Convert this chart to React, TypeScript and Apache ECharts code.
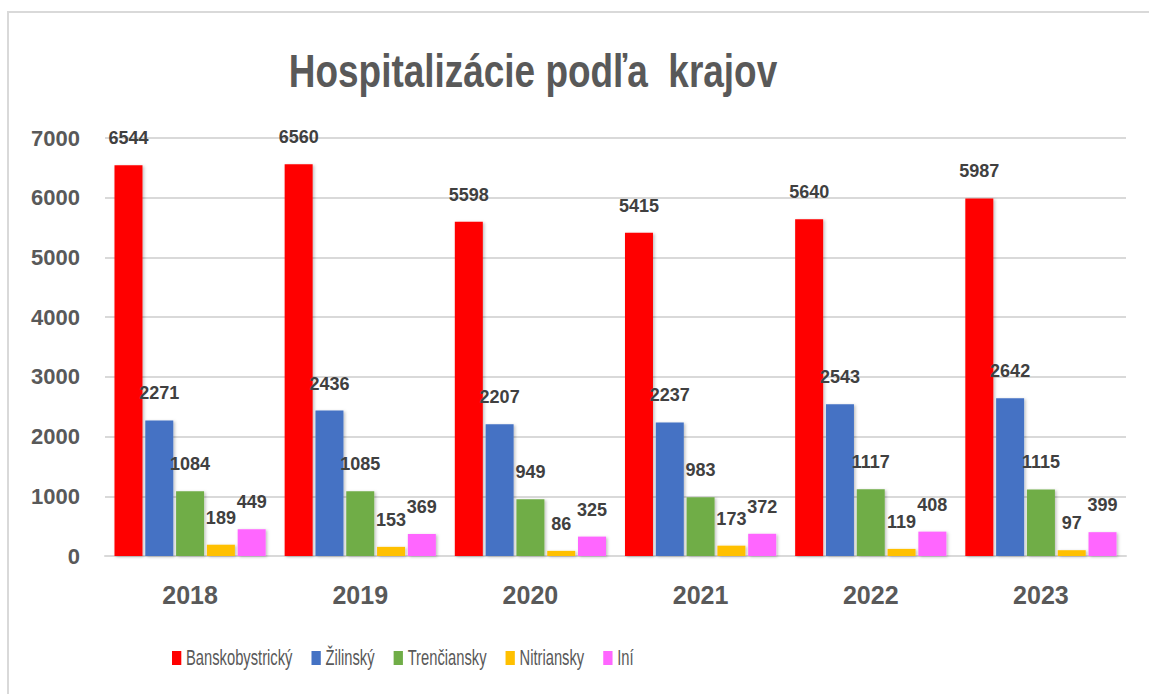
import React, { useEffect, useRef } from "react";
import * as echarts from "echarts";

const years = ["2018", "2019", "2020", "2021", "2022", "2023"];
const seriesNames = ["Banskobystrický", "Žilinský", "Trenčiansky", "Nitriansky", "Iní"];
const banskobystricky = [6544, 6560, 5598, 5415, 5640, 5987];
const zilinsky = [2271, 2436, 2207, 2237, 2543, 2642];
const trenciansky = [1084, 1085, 949, 983, 1117, 1115];
const nitriansky = [189, 153, 86, 173, 119, 97];
const ini = [449, 369, 325, 372, 408, 399];
const colors = ["#FF0000", "#4472C4", "#70AD47", "#FFC000", "#FF66FF"];
const titleText = "Hospitalizácie podľa  krajov";

const LEGEND_FONT = "22px 'Liberation Sans', sans-serif";
const LEGEND_SCALE = 0.67;

function measure(text: string, font: string): number {
  const c = document.createElement("canvas").getContext("2d");
  if (!c) return text.length * 10;
  c.font = font;
  return c.measureText(text).width;
}

function buildLegend() {
  const els: any[] = [];
  let x = 172;
  seriesNames.forEach((name, i) => {
    els.push({
      type: "rect",
      shape: { x, y: 651, width: 9.3, height: 14 },
      style: { fill: colors[i] },
    });
    const tx = x + 14;
    els.push({
      type: "text",
      x: tx,
      y: 657.5,
      scaleX: LEGEND_SCALE,
      style: {
        text: name,
        textAlign: "left",
        textVerticalAlign: "middle",
        fill: "#595959",
        font: LEGEND_FONT,
      },
    });
    x = tx + measure(name, LEGEND_FONT) * LEGEND_SCALE + 19;
  });
  return els;
}

export default function App() {
  const ref = useRef<HTMLDivElement>(null);
  useEffect(() => {
    if (!ref.current) return;
    const chart = echarts.init(ref.current, null, { renderer: "svg" });
    const allData = [banskobystricky, zilinsky, trenciansky, nitriansky, ini];
    const series = allData.map((d, i) => ({
      name: seriesNames[i],
      type: "bar",
      data: d,
      barWidth: 28,
      barGap: "10%",
      itemStyle: {
        color: colors[i],
        shadowColor: "rgba(0,0,0,0.25)",
        shadowBlur: 3,
        shadowOffsetX: 1.5,
        shadowOffsetY: 1,
      },
      label: {
        show: true,
        position: "top",
        distance: 18,
        color: "#404040",
        fontFamily: "'Liberation Sans', sans-serif",
        fontWeight: "bold",
        fontSize: 18,
        lineHeight: 18,
      },
    }));
    chart.setOption({
      animation: false,
      backgroundColor: "#ffffff",
      color: colors,
      graphic: [
        {
          type: "rect",
          z: -10,
          shape: { x: 8, y: 12, width: 1300, height: 900 },
          style: { fill: "none", stroke: "#d9d9d9", lineWidth: 2 },
        },
        {
          type: "text",
          x: 533,
          y: 71,
          scaleX: 0.786,
          style: {
            text: titleText,
            textAlign: "center",
            textVerticalAlign: "middle",
            fill: "#595959",
            font: "bold 47px 'Liberation Sans', sans-serif",
          },
        },
        ...buildLegend(),
      ],
      grid: { left: 105, right: 23, top: 138, bottom: 138, containLabel: false },
      xAxis: {
        type: "category",
        data: years,
        axisLine: { show: true, lineStyle: { color: "#d9d9d9", width: 2 } },
        axisTick: { show: false },
        axisLabel: {
          margin: 26,
          color: "#595959",
          fontWeight: "bold",
          fontSize: 25,
          lineHeight: 25,
          fontFamily: "'Liberation Sans', sans-serif",
        },
      },
      yAxis: {
        type: "value",
        min: 0,
        max: 7000,
        interval: 1000,
        axisLine: { show: false },
        axisTick: { show: false },
        splitLine: { lineStyle: { color: "#d9d9d9", width: 2 } },
        axisLabel: {
          margin: 25,
          color: "#595959",
          fontWeight: "bold",
          fontSize: 22,
          fontFamily: "'Liberation Sans', sans-serif",
          formatter: (v: number) => String(v),
        },
      },
      series,
    });
    return () => chart.dispose();
  }, []);
  return (
    <div
      ref={ref}
      style={{ position: "fixed", left: 0, top: 0, width: 1149, height: 694, background: "#fff" }}
    />
  );
}
